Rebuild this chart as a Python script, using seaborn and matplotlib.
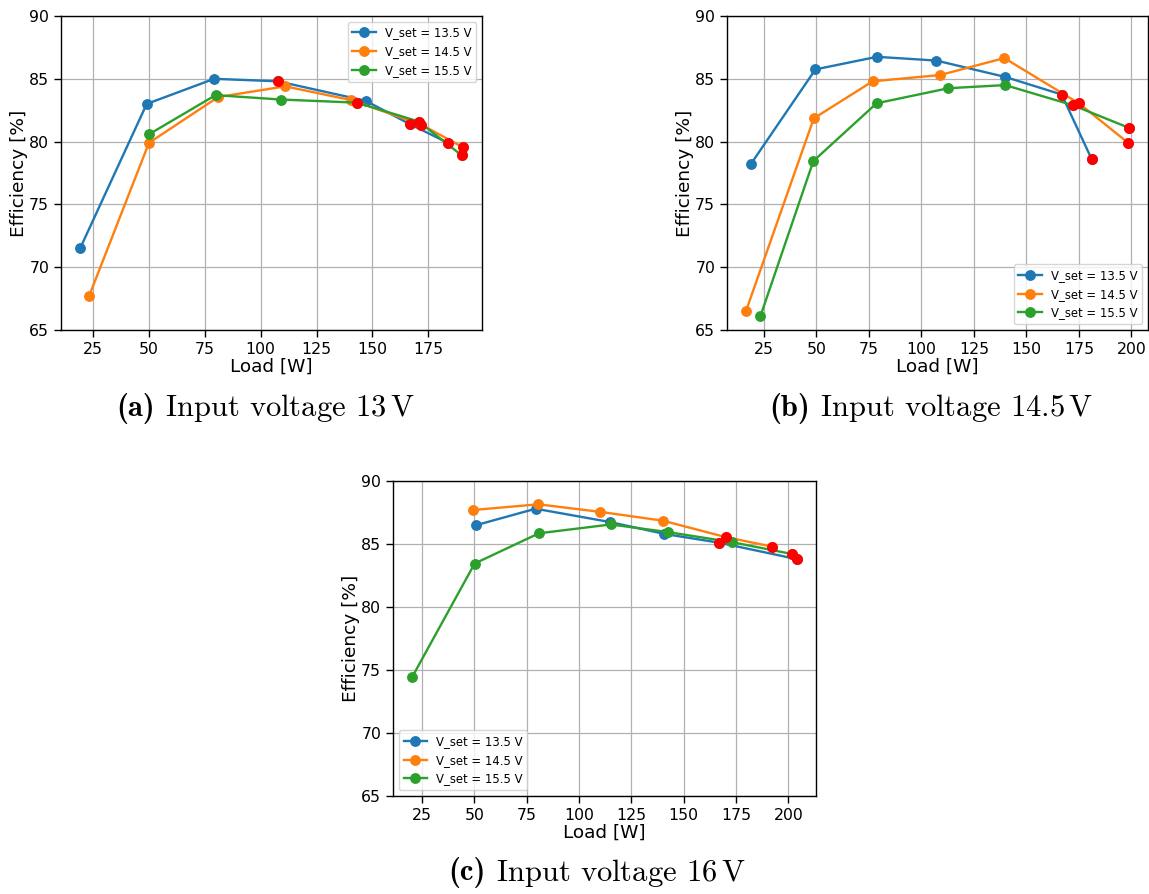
import matplotlib
matplotlib.use("Agg")
import matplotlib.pyplot as plt
from matplotlib.ticker import MultipleLocator
import seaborn as sns
import pandas as pd

# ---------------- data ----------------
series_labels = ["V_set = 13.5 V", "V_set = 14.5 V", "V_set = 15.5 V"]
series_colors = ["#1f77b4", "#ff7f0e", "#2ca02c"]

# (a) input voltage 13 V
load_a_135 = [19.2, 49.0, 79.2, 107.7, 147.0, 166.7, 183.8]
eff_a_135 = [71.5, 83.0, 85.0, 84.8, 83.25, 81.4, 79.9]
red_a_135 = [False, False, False, True, False, True, True]
load_a_145 = [23.2, 50.0, 81.0, 111.0, 140.6, 171.9, 190.5]
eff_a_145 = [67.7, 79.9, 83.55, 84.4, 83.3, 81.35, 79.55]
red_a_145 = [False, False, False, False, False, True, True]
load_a_155 = [50.2, 79.8, 109.0, 143.2, 170.7, 190.0]
eff_a_155 = [80.6, 83.7, 83.35, 83.1, 81.6, 78.9]
red_a_155 = [False, False, False, True, True, True]

# (b) input voltage 14.5 V
load_b_135 = [18.8, 49.6, 78.9, 107.2, 139.9, 166.8, 181.1]
eff_b_135 = [78.2, 85.75, 86.75, 86.45, 85.15, 83.75, 78.6]
red_b_135 = [False, False, False, False, False, True, True]
load_b_145 = [16.6, 48.8, 76.8, 109.0, 139.5, 175.0, 198.5]
eff_b_145 = [66.55, 81.85, 84.8, 85.3, 86.65, 83.05, 79.9]
red_b_145 = [False, False, False, False, False, True, True]
load_b_155 = [23.4, 48.6, 78.7, 112.9, 139.9, 172.1, 198.8]
eff_b_155 = [66.1, 78.45, 83.05, 84.25, 84.5, 82.9, 81.1]
red_b_155 = [False, False, False, False, False, True, True]

# (c) input voltage 16 V
load_c_135 = [51.0, 79.3, 114.6, 140.8, 167.1, 204.0]
eff_c_135 = [86.5, 87.8, 86.75, 85.8, 85.1, 83.8]
red_c_135 = [False, False, False, False, True, True]
load_c_145 = [49.6, 80.6, 110.2, 140.1, 170.0, 192.0]
eff_c_145 = [87.7, 88.15, 87.55, 86.85, 85.55, 84.8]
red_c_145 = [False, False, False, False, True, True]
load_c_155 = [20.4, 50.2, 80.9, 115.2, 142.3, 172.9, 201.9]
eff_c_155 = [74.45, 83.45, 85.85, 86.55, 85.95, 85.15, 84.2]
red_c_155 = [False, False, False, False, False, False, True]

caption_tags = ["(a)", "(b)", "(c)"]
caption_texts = [" Input voltage 13$\\,$V",
                 " Input voltage 14.5$\\,$V",
                 " Input voltage 16$\\,$V"]

y_ticks = [65, 70, 75, 80, 85, 90]

panels = [
    [(load_a_135, eff_a_135, red_a_135), (load_a_145, eff_a_145, red_a_145), (load_a_155, eff_a_155, red_a_155)],
    [(load_b_135, eff_b_135, red_b_135), (load_b_145, eff_b_145, red_b_145), (load_b_155, eff_b_155, red_b_155)],
    [(load_c_135, eff_c_135, red_c_135), (load_c_145, eff_c_145, red_c_145), (load_c_155, eff_c_155, red_c_155)],
]
legend_locs = ["upper right", "lower right", "lower left"]

# ---------------- layout ----------------
W, H = 1149, 894
fig = plt.figure(figsize=(W / 100, H / 100), dpi=100)
plt.rcParams["mathtext.fontset"] = "cm"

axes_px = [(61, 16, 421, 314), (727, 16, 421, 314), (393, 481, 423, 315)]
caption_px = [(265, 408), (931, 408), (597, 873)]

renderer = fig.canvas.get_renderer()

for i, (px, series) in enumerate(zip(axes_px, panels)):
    l, t, w, h = px
    ax = fig.add_axes([l / W, 1 - (t + h) / H, w / W, h / H])
    red_x, red_y = [], []
    for (ld, ef, rd), lab, col in zip(series, series_labels, series_colors):
        df = pd.DataFrame({"Load": ld, "Eff": ef})
        sns.lineplot(data=df, x="Load", y="Eff", ax=ax, color=col, label=lab,
                     marker="o", markersize=6.8, markeredgecolor=col,
                     markeredgewidth=1, linewidth=1.7, sort=False,
                     estimator=None, legend=False)
        for xx, yy, r in zip(ld, ef, rd):
            if r:
                red_x.append(xx)
                red_y.append(yy)
    sns.scatterplot(x=red_x, y=red_y, ax=ax, color="red", s=62,
                    linewidth=0, zorder=5)
    ax.set_ylim(65, 90)
    ax.set_yticks(y_ticks)
    ax.xaxis.set_major_locator(MultipleLocator(25))
    ax.grid(True, color="#b0b0b0", linewidth=0.9)
    ax.set_axisbelow(True)
    ax.set_xlabel("Load [W]", fontsize=13.3, labelpad=1)
    ax.set_ylabel("Efficiency [%]", fontsize=13.3, labelpad=1)
    ax.tick_params(labelsize=11.3, length=5, width=1)
    for sp in ax.spines.values():
        sp.set_linewidth(1)
        sp.set_color("black")
    handles = [ln for ln in ax.lines if not ln.get_label().startswith("_")]
    ax.legend(handles=handles, labels=[hh.get_label() for hh in handles],
              loc=legend_locs[i], fontsize=8.4)

    # caption: bold tag (cmb10) followed by roman text (cmr10), centred
    cx, cy = caption_px[i]
    t1 = fig.text(0, 1 - cy / H, caption_tags[i], ha="left", va="center",
                  fontsize=22, family="cmb10")
    t2 = fig.text(0, 1 - cy / H, caption_texts[i], ha="left", va="center",
                  fontsize=22, family="cmr10")
    w1 = t1.get_window_extent(renderer).width
    w2 = t2.get_window_extent(renderer).width
    x0 = cx - (w1 + w2) / 2
    t1.set_x(x0 / W)
    t2.set_x((x0 + w1) / W)

fig.savefig("out.png", dpi=100)
